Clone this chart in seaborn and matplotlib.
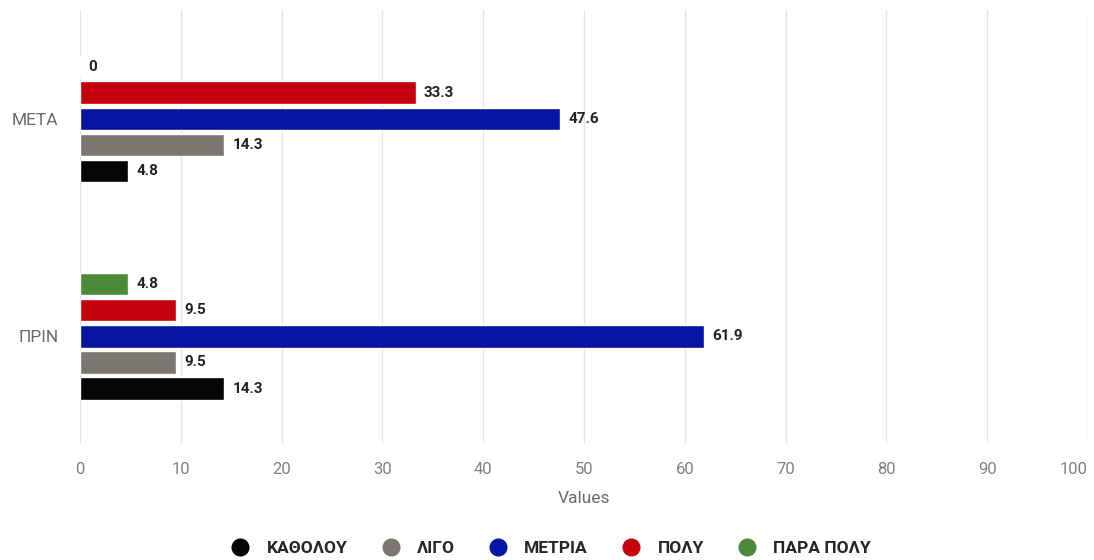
import matplotlib
matplotlib.use("Agg")
import matplotlib.pyplot as plt
from matplotlib.lines import Line2D
import seaborn as sns
import pandas as pd

categories = ["ΜΕΤΑ", "ΠΡΙΝ"]
series = ["ΚΑΘΟΛΟΥ", "ΛΙΓΟ", "ΜΕΤΡΙΑ", "ΠΟΛΥ", "ΠΑΡΑ ΠΟΛΥ"]
katholou = [4.8, 14.3]
ligo = [14.3, 9.5]
metria = [47.6, 61.9]
poly = [33.3, 9.5]
para_poly = [0, 4.8]
colors = ["#050505", "#7a7670", "#0613a3", "#c3000b", "#4c8a3a"]
xticks = [0, 10, 20, 30, 40, 50, 60, 70, 80, 90, 100]

values = [katholou, ligo, metria, poly, para_poly]
rows = []
for s, vals in zip(series, values):
    for c, v in zip(categories, vals):
        rows.append({"category": c, "series": s, "value": v})
df = pd.DataFrame(rows)

sns.set_theme(style="white")
plt.rcParams["font.family"] = ["Roboto", "DejaVu Sans"]

fig = plt.figure(figsize=(10.94, 5.6), dpi=100)
ax = fig.add_axes([80 / 1094, 1 - 443 / 560, (1088 - 80) / 1094, (443 - 10) / 560])

palette = dict(zip(series, colors))
hue_order = series[::-1]
sns.barplot(data=df, x="value", y="category", hue="series", hue_order=hue_order,
            order=categories, palette=palette, orient="h", width=0.6, gap=0.14,
            saturation=1, legend=False, ax=ax, errorbar=None)

for cont in ax.containers:
    labels = [f"{r.get_width():g}" for r in cont]
    ax.bar_label(cont, labels=labels, padding=6, fontsize=11, fontweight="bold",
                 color="#222222")

ax.set_xlim(0, 100)
ax.set_ylim(1.49, -0.5)
ax.set_xticks(xticks)
ax.set_xticklabels([str(t) for t in xticks], color="#808080", fontsize=12)
tl = ax.get_xticklabels()
tl[-1].set_horizontalalignment("right")
ax.tick_params(axis="x", length=0, pad=14)
ax.tick_params(axis="y", length=0, pad=15.5, labelcolor="#6a6a6a", labelsize=12.5)
ax.set_xlabel("Values", color="#6a6a6a", fontsize=12.5, labelpad=10)
ax.set_ylabel("")
ax.grid(axis="x", color="#e3e4ec", linewidth=1)
ax.set_axisbelow(True)
for sp in ax.spines.values():
    sp.set_visible(False)

handles = [Line2D([0], [0], marker="o", linestyle="", markersize=12,
                  markerfacecolor=c, markeredgecolor=c) for c in colors]
fig.legend(handles, series, loc="center", bbox_to_anchor=(0.5, 1 - 548 / 560),
           ncol=5, frameon=False, prop={"weight": "bold", "size": 12.5},
           handletextpad=0.5, columnspacing=1.5)

fig.savefig("out.png", dpi=100)
